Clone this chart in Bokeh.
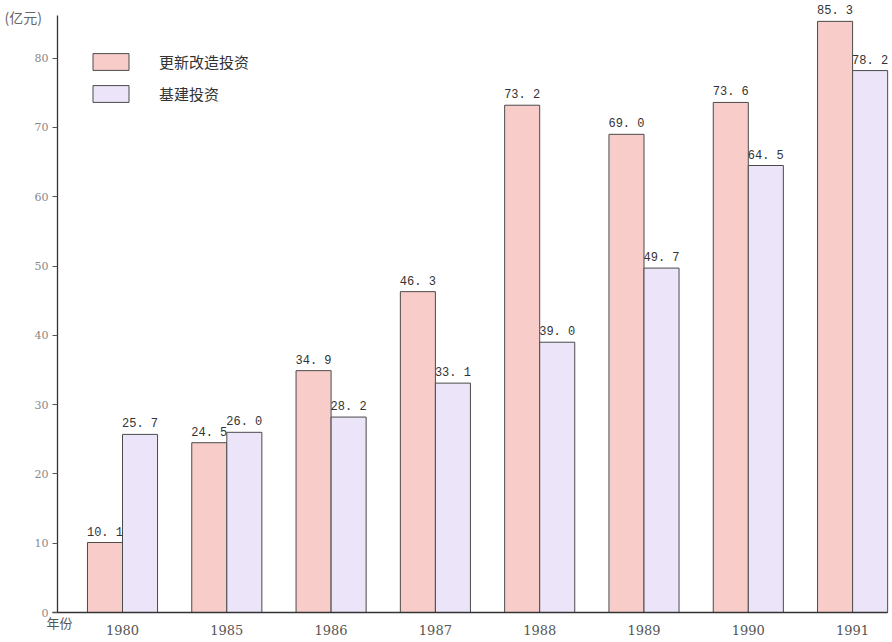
from bokeh.plotting import figure
from bokeh.models import (ColumnDataSource, Range1d, FixedTicker, LabelSet, Label,
                          Legend, LegendItem)
from bokeh.embed import file_html
from bokeh.resources import INLINE
from bokeh.core.properties import value

# ---- data ----
years = ["1980", "1985", "1986", "1987", "1988", "1989", "1990", "1991"]
renewal = [10.1, 24.5, 34.9, 46.3, 73.2, 69.0, 73.6, 85.3]      # 更新改造投资
capital = [25.7, 26.0, 28.2, 33.1, 39.0, 49.7, 64.5, 78.2]      # 基建投资
series_names = ["更新改造投资", "基建投资"]
y_ticks = [0, 10, 20, 30, 40, 50, 60, 70, 80]
unit_label = "(亿元)"
x_title = "年份"

PINK = "#F8CDC9"
LAV = "#ECE4F9"
EDGE = "#4a4a4a"
BAR_W = 0.336
OFF = 0.168

W, H = 890, 640
X0, XS = 122.0, 104.3      # pixel of first category centre, pixels per category
Y0, YS = 612.0, 6.93       # pixel of value 0, pixels per unit

idx = list(range(len(years)))
src_a = ColumnDataSource(dict(
    x=[i - OFF for i in idx], top=renewal,
    lab=[f"{v:.1f}".replace(".", ". ") for v in renewal]))
src_b = ColumnDataSource(dict(
    x=[i + OFF for i in idx], top=capital,
    lab=[f"{v:.1f}".replace(".", ". ") for v in capital]))

p = figure(width=W, height=H, output_backend="svg", toolbar_location=None,
           x_range=Range1d(-X0 / XS, (W - X0) / XS),
           y_range=Range1d((Y0 - H) / YS, Y0 / YS),
           min_border=0, min_border_left=0, min_border_right=0,
           min_border_top=0, min_border_bottom=0)
p.background_fill_color = "white"
p.border_fill_color = "white"
p.outline_line_color = None
p.xgrid.visible = False
p.ygrid.visible = False

ra = p.vbar(x="x", top="top", width=BAR_W, bottom=0, source=src_a,
            fill_color=PINK, line_color=EDGE, line_width=1)
rb = p.vbar(x="x", top="top", width=BAR_W, bottom=0, source=src_b,
            fill_color=LAV, line_color=EDGE, line_width=1)

for s in (src_a, src_b):
    p.add_layout(LabelSet(x="x", y="top", text="lab", source=s, y_offset=3,
                          text_align="center", text_baseline="bottom",
                          text_font=value("Liberation Mono"),
                          text_font_size="12px", text_color="#333333"))

# axes (placed inside the frame at fixed locations)
p.yaxis.fixed_location = (57 - X0) / XS
p.yaxis.bounds = (0, (Y0 - 15) / YS)
p.yaxis.ticker = FixedTicker(ticks=y_ticks)
p.yaxis.major_tick_out = 5
p.yaxis.major_tick_in = 0
p.yaxis.minor_tick_line_color = None
p.yaxis.major_label_standoff = 4
p.yaxis.major_label_text_font = "DejaVu Serif"
p.yaxis.major_label_text_font_size = "11px"
p.yaxis.major_label_text_color = "#888888"
p.yaxis.axis_line_color = "#333333"
p.yaxis.axis_line_width = 1.3
p.yaxis.major_tick_line_color = "#555555"

p.xaxis.fixed_location = 0
p.xaxis.bounds = ((52 - X0) / XS, (887 - X0) / XS)
p.xaxis.ticker = FixedTicker(ticks=idx)
p.xaxis.major_label_overrides = {i: y for i, y in zip(idx, years)}
p.xaxis.major_tick_out = 0
p.xaxis.major_tick_in = 0
p.xaxis.minor_tick_line_color = None
p.xaxis.major_label_standoff = 12
p.xaxis.major_label_text_font = "DejaVu Serif"
p.xaxis.major_label_text_font_size = "13px"
p.xaxis.major_label_text_color = "#555555"
p.xaxis.axis_line_color = "#333333"
p.xaxis.axis_line_width = 1.3

# unit and axis title labels
p.add_layout(Label(x=(4 - X0) / XS, y=(Y0 - 16) / YS, text=unit_label,
                   text_baseline="middle",
                   text_font="Noto Sans CJK SC", text_font_size="14px",
                   text_color="#666666"))
p.add_layout(Label(x=(46 - X0) / XS, y=(Y0 - 622) / YS, text=x_title,
                   text_baseline="middle",
                   text_font="Noto Sans CJK SC", text_font_size="13px",
                   text_color="#555555"))

legend = Legend(items=[LegendItem(label=series_names[0], renderers=[ra]),
                       LegendItem(label=series_names[1], renderers=[rb])],
                location=(88, H - 104), orientation="vertical",
                glyph_width=45, glyph_height=21, label_height=21,
                spacing=11, padding=0, margin=0, label_standoff=26,
                label_text_font="Noto Sans CJK SC", label_text_font_size="15px",
                label_text_color="#333333",
                border_line_color=None, background_fill_alpha=0)
p.add_layout(legend)

open("out.html", "w").write(file_html(p, INLINE))
